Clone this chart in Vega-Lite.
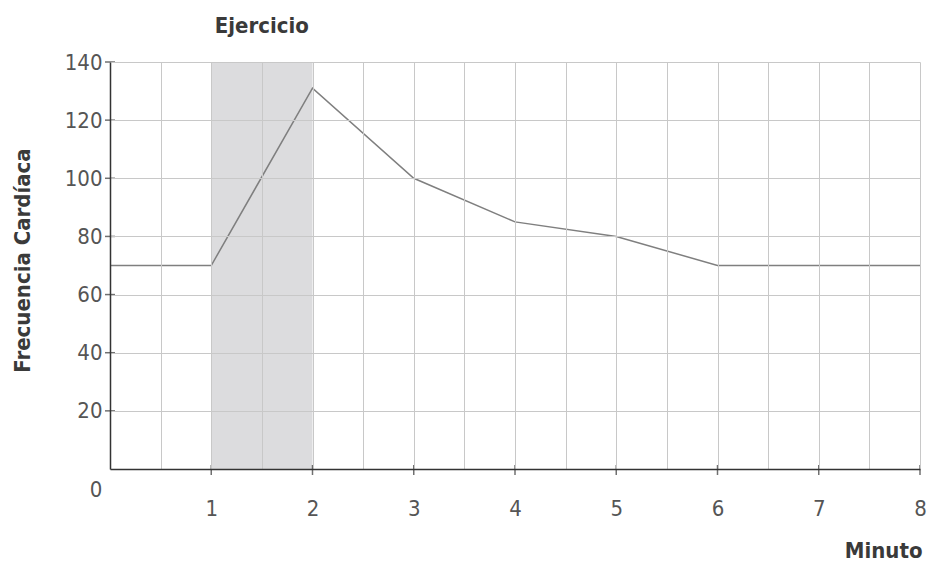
{
  "$schema": "https://vega.github.io/schema/vega-lite/v6.json",
  "width": 810,
  "height": 407,
  "autosize": "none",
  "padding": {"left": 110, "top": 62, "right": 8, "bottom": 92},
  "background": "white",
  "config": {
    "view": {"stroke": null},
    "font": "Liberation Sans Narrow, DejaVu Sans Condensed, Open Sans",
    "axis": {
      "labelFont": "Liberation Sans Narrow, DejaVu Sans Condensed, Open Sans",
      "titleFont": "Liberation Sans Narrow, DejaVu Sans Condensed, Open Sans",
      "labelColor": "#555555",
      "titleColor": "#3a3a3a",
      "labelFontSize": 22,
      "titleFontSize": 22,
      "titleFontWeight": "bold",
      "gridColor": "#c8c8c8",
      "gridWidth": 1,
      "domainColor": "#333333",
      "domainWidth": 1.5,
      "ticks": false,
      "tickSize": 0,
      "labelFlush": false
    }
  },
  "layer": [
    {
      "data": {"values": [{"inicio": 1, "fin": 2, "bajo": 0, "alto": 140}]},
      "mark": {"type": "rect", "color": "#dcdcde", "opacity": 1},
      "encoding": {
        "x": {"field": "inicio", "type": "quantitative", "scale": {"domain": [0, 8], "nice": false}},
        "x2": {"field": "fin"},
        "y": {"field": "bajo", "type": "quantitative", "scale": {"domain": [0, 140], "nice": false}},
        "y2": {"field": "alto"}
      }
    },
    {
      "data": {"values": [
        {"minuto": 0, "fc": 70},
        {"minuto": 1, "fc": 70},
        {"minuto": 2, "fc": 131},
        {"minuto": 3, "fc": 100},
        {"minuto": 4, "fc": 85},
        {"minuto": 5, "fc": 80},
        {"minuto": 6, "fc": 70},
        {"minuto": 7, "fc": 70},
        {"minuto": 8, "fc": 70}
      ]},
      "mark": {"type": "line", "color": "#7f7f7f", "strokeWidth": 1.5, "zindex": 2},
      "encoding": {
        "x": {
          "field": "minuto", "type": "quantitative",
          "axis": {
            "values": [0.5, 1, 1.5, 2, 2.5, 3, 3.5, 4, 4.5, 5, 5.5, 6, 6.5, 7, 7.5, 8],
            "labelExpr": "datum.value % 1 === 0 ? format(datum.value, 'd') : ''",
            "labelBaseline": "alphabetic",
            "labelPadding": 46,
            "title": "Minuto",
            "titleX": 812,
            "titleY": 88,
            "titleAlign": "right",
            "titleBaseline": "alphabetic",
            "grid": true,
            "zindex": 1
          }
        },
        "y": {
          "field": "fc", "type": "quantitative",
          "axis": {
            "values": [20, 40, 60, 80, 100, 120, 140],
            "labelPadding": 8,
            "title": "Frecuencia Cardíaca",
            "titleX": -88,
            "titleY": 198,
            "titleAngle": -90,
            "titleAlign": "center",
            "titleBaseline": "middle",
            "grid": true,
            "zindex": 1
          }
        }
      }
    },
    {
      "data": {"values": [{"minuto": 1}, {"minuto": 2}, {"minuto": 3}, {"minuto": 4}, {"minuto": 5}, {"minuto": 6}, {"minuto": 7}, {"minuto": 8}]},
      "mark": {"type": "tick", "orient": "vertical", "size": 10, "thickness": 1.5, "color": "#333333", "yOffset": 1, "zindex": 2},
      "encoding": {
        "x": {"field": "minuto", "type": "quantitative"},
        "y": {"datum": 0, "type": "quantitative"}
      }
    },
    {
      "data": {"values": [{"fc": 20}, {"fc": 40}, {"fc": 60}, {"fc": 80}, {"fc": 100}, {"fc": 120}, {"fc": 140}]},
      "mark": {"type": "tick", "orient": "horizontal", "size": 10, "thickness": 1.5, "color": "#333333", "zindex": 2},
      "encoding": {
        "x": {"datum": 0, "type": "quantitative"},
        "y": {"field": "fc", "type": "quantitative"}
      }
    },
    {
      "data": {"values": [{"texto": "0", "minuto": 0, "fc": 0}]},
      "mark": {"type": "text", "fontSize": 22, "color": "#555555", "align": "center", "baseline": "alphabetic", "dx": -14, "dy": 28},
      "encoding": {
        "x": {"field": "minuto", "type": "quantitative"},
        "y": {"field": "fc", "type": "quantitative"},
        "text": {"field": "texto"}
      }
    },
    {
      "data": {"values": [{"texto": "Ejercicio", "minuto": 1.5, "fc": 140}]},
      "mark": {"type": "text", "fontSize": 22, "fontWeight": "bold", "color": "#3a3a3a", "align": "center", "baseline": "alphabetic", "dy": -29},
      "encoding": {
        "x": {"field": "minuto", "type": "quantitative"},
        "y": {"field": "fc", "type": "quantitative"},
        "text": {"field": "texto"}
      }
    }
  ]
}
